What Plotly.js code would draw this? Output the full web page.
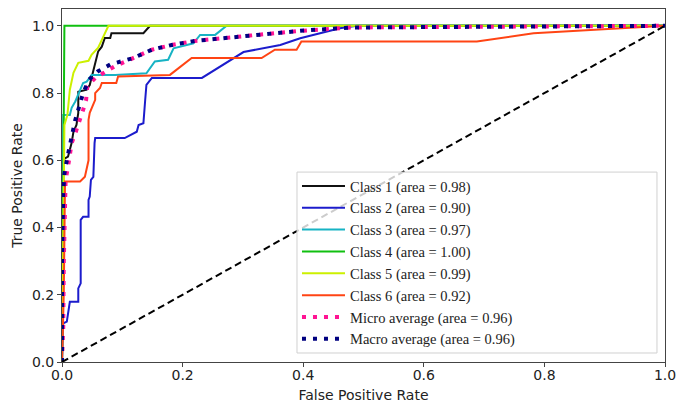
<!DOCTYPE html>
<html>
<head>
<meta charset="utf-8">
<script src="https://cdn.plot.ly/plotly-3.0.1.min.js"></script>
<style>html,body{margin:0;padding:0;background:#fff;}#chart{width:688px;height:405px;}</style>
</head>
<body>
<div id="chart"></div>
<script>
// Legend labels
const classNames = ["Class 1 (area = 0.98)", "Class 2 (area = 0.90)", "Class 3 (area = 0.97)",
  "Class 4 (area = 1.00)", "Class 5 (area = 0.99)", "Class 6 (area = 0.92)"];
const microName = "Micro average (area = 0.96)";
const macroName = "Macro average (area = 0.96)";

// ROC curve values (FPR, TPR)
const fpr1 = [0, 0.002, 0.005, 0.010, 0.016, 0.019, 0.024, 0.027, 0.027, 0.041, 0.046, 0.052, 0.055, 0.060, 0.066, 0.071, 0.080, 0.082, 0.135, 0.146, 1.0];
const tpr1 = [0, 0.601, 0.606, 0.611, 0.652, 0.685, 0.705, 0.741, 0.804, 0.810, 0.824, 0.864, 0.890, 0.924, 0.938, 0.964, 0.964, 0.978, 0.978, 1.0, 1.0];

const fpr2 = [0, 0.002, 0.008, 0.013, 0.027, 0.027, 0.031, 0.031, 0.035, 0.044, 0.044, 0.046, 0.048, 0.052, 0.054, 0.055, 0.104, 0.124, 0.127, 0.135, 0.138, 0.140, 0.149, 0.232, 0.301, 0.362, 0.395, 0.461, 0.489, 1.0];
const tpr2 = [0, 0.115, 0.120, 0.179, 0.179, 0.219, 0.234, 0.423, 0.432, 0.432, 0.482, 0.492, 0.542, 0.551, 0.651, 0.666, 0.666, 0.685, 0.705, 0.710, 0.780, 0.824, 0.845, 0.845, 0.922, 0.943, 0.963, 0.993, 1.0, 1.0];

const fpr3 = [0, 0.002, 0.005, 0.013, 0.016, 0.022, 0.035, 0.041, 0.049, 0.088, 0.140, 0.146, 0.154, 0.176, 0.182, 0.185, 0.218, 0.229, 0.254, 0.273, 1.0];
const tpr3 = [0, 0.735, 0.735, 0.735, 0.756, 0.775, 0.830, 0.834, 0.854, 0.854, 0.859, 0.874, 0.894, 0.899, 0.923, 0.933, 0.948, 0.973, 0.973, 1.0, 1.0];

const fpr4 = [0, 0.003, 0.004, 1.0];
const tpr4 = [0, 0.82, 1.0, 1.0];

const fpr5 = [0, 0.003, 0.004, 0.009, 0.013, 0.019, 0.027, 0.044, 0.049, 0.060, 0.068, 0.077, 1.0];
const tpr5 = [0, 0.50, 0.705, 0.735, 0.810, 0.860, 0.890, 0.896, 0.914, 0.935, 0.964, 1.0, 1.0];

const fpr6 = [0, 0.003, 0.005, 0.030, 0.038, 0.044, 0.044, 0.046, 0.055, 0.055, 0.063, 0.066, 0.090, 0.093, 0.179, 0.198, 0.215, 0.331, 0.353, 0.389, 0.397, 0.688, 0.782, 1.0];
const tpr6 = [0, 0.21, 0.537, 0.537, 0.551, 0.600, 0.720, 0.741, 0.780, 0.800, 0.815, 0.830, 0.830, 0.849, 0.854, 0.879, 0.904, 0.904, 0.929, 0.929, 0.953, 0.953, 0.978, 1.0];

const fprMicro = [0, 0.002, 0.003, 0.004, 0.005, 0.006, 0.010, 0.013, 0.016, 0.022, 0.030, 0.035, 0.040, 0.042, 0.055, 0.068, 0.088, 0.118, 0.149, 0.182, 0.220, 0.312, 0.395, 0.478, 1.0];
const tprMicro = [0, 0.10, 0.30, 0.383, 0.482, 0.542, 0.581, 0.621, 0.651, 0.680, 0.720, 0.750, 0.780, 0.820, 0.845, 0.859, 0.880, 0.904, 0.929, 0.943, 0.955, 0.971, 0.985, 0.995, 1.0];

const fprMacro = [0, 0.0, 0.002, 0.004, 0.008, 0.012, 0.016, 0.022, 0.028, 0.035, 0.045, 0.060, 0.080, 0.118, 0.149, 0.182, 0.220, 0.312, 0.395, 0.478, 1.0];
const tprMacro = [0, 0.30, 0.50, 0.56, 0.60, 0.64, 0.67, 0.72, 0.76, 0.80, 0.84, 0.865, 0.885, 0.904, 0.929, 0.943, 0.955, 0.971, 0.985, 0.995, 1.0];

const chanceX = [0, 1];
const chanceY = [0, 1];

const tickVals = [0, 0.2, 0.4, 0.6, 0.8, 1.0];
const tickText = ["0.0", "0.2", "0.4", "0.6", "0.8", "1.0"];

const colors = ["#111111", "#1c1ccc", "#17b3c4", "#10c010", "#ccf000", "#ff4414"];
const fprs = [fpr1, fpr2, fpr3, fpr4, fpr5, fpr6];
const tprs = [tpr1, tpr2, tpr3, tpr4, tpr5, tpr6];

const traces = [];
for (let i = 0; i < 6; i++) {
  traces.push({x: fprs[i], y: tprs[i], mode: "lines", name: classNames[i],
    line: {color: colors[i], width: 2}});
}
traces.push({x: fprMicro, y: tprMicro, mode: "lines", name: microName,
  line: {color: "#ff1493", width: 4, dash: "4px,7px"}});
traces.push({x: fprMacro, y: tprMacro, mode: "lines", name: macroName,
  line: {color: "#000080", width: 4, dash: "4px,7px"}});
traces.push({x: chanceX, y: chanceY, mode: "lines", showlegend: false,
  line: {color: "#000000", width: 2, dash: "7px,4px"}});

const axisFont = {family: "DejaVu Sans", size: 14, color: "#222"};

const layout = {
  width: 688, height: 405,
  margin: {l: 62, r: 23, t: 9, b: 43, pad: 0},
  paper_bgcolor: "#fff", plot_bgcolor: "#fff",
  showlegend: true,
  xaxis: {range: [0, 1], tickvals: tickVals, ticktext: tickText, showgrid: false, zeroline: false,
    showline: true, mirror: true, linecolor: "#444", linewidth: 1,
    ticks: "outside", ticklen: 4, tickcolor: "#444", tickfont: axisFont, ticklabelstandoff: -4,
    title: {text: "False Positive Rate", font: axisFont, standoff: 8}},
  yaxis: {range: [0, 1.05], tickvals: tickVals, ticktext: tickText, showgrid: false, zeroline: false,
    showline: true, mirror: true, linecolor: "#444", linewidth: 1,
    ticks: "outside", ticklen: 4, tickcolor: "#444", tickfont: axisFont,
    title: {text: "True Positive Rate", font: axisFont, standoff: 6}},
  shapes: [{type: "rect", xref: "paper", yref: "paper", x0: 0.3897, x1: 0.9867, y0: 0.0255, y1: 0.538,
    line: {color: "#d0d0d0", width: 1}, fillcolor: "rgba(255,255,255,0.8)", layer: "above"}],
  legend: {x: 0.3897, y: 0.544, xanchor: "left", yanchor: "top", bgcolor: "rgba(0,0,0,0)",
    borderwidth: 0, itemwidth: 43, tracegroupgap: 0,
    font: {family: "Liberation Serif", size: 14.5, color: "#222"}}
};

Plotly.newPlot("chart", traces, layout, {displayModeBar: false, staticPlot: true});
</script>
</body>
</html>
